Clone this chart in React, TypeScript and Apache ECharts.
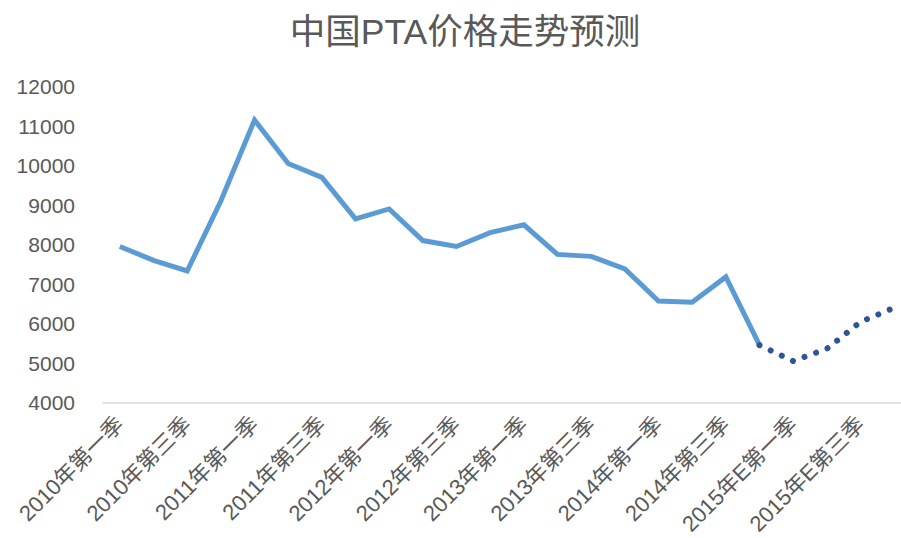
import React, { useEffect, useRef } from "react";
import * as echarts from "echarts";

const categories = [
  "2010年第一季", "2010年第二季", "2010年第三季", "2010年第四季",
  "2011年第一季", "2011年第二季", "2011年第三季", "2011年第四季",
  "2012年第一季", "2012年第二季", "2012年第三季", "2012年第四季",
  "2013年第一季", "2013年第二季", "2013年第三季", "2013年第四季",
  "2014年第一季", "2014年第二季", "2014年第三季", "2014年第四季",
  "2015年E第一季", "2015年E第二季", "2015年E第三季", "2015年E第四季",
];

const actualPrices: (number | null)[] = [
  7950, 7600, 7330, 9100,
  11150, 10050, 9700, 8650,
  8900, 8100, 7950, 8300,
  8500, 7750, 7700, 7380,
  6570, 6540, 7180, 5450,
  null, null, null, null,
];

const forecastPrices: (number | null)[] = [
  null, null, null, null,
  null, null, null, null,
  null, null, null, null,
  null, null, null, null,
  null, null, null, 5450,
  5050, 5360, 6040, 6400,
];

const yTicks = { min: 4000, max: 12000, interval: 1000 };

const FONT = '"Liberation Sans", "Noto Sans CJK SC", sans-serif';

export default function App() {
  const ref = useRef<HTMLDivElement>(null);
  useEffect(() => {
    if (!ref.current) return;
    const chart = echarts.init(ref.current, undefined, { renderer: "svg" });
    chart.setOption({
      animation: false,
      backgroundColor: "#ffffff",
      title: {
        text: "中国PTA价格走势预测",
        left: 460,
        top: 9,
        textAlign: "center",
        textStyle: {
          fontFamily: FONT,
          fontSize: 35.5,
          fontWeight: "normal",
          color: "#595959",
        },
      },
      grid: {
        left: 103,
        width: 808,
        top: 86.5,
        height: 316,
        containLabel: false,
        outerBoundsMode: "none",
      },
      xAxis: {
        type: "category",
        data: categories,
        boundaryGap: true,
        axisLine: { show: true, lineStyle: { color: "#d9d9d9", width: 1.5 } },
        axisTick: { show: false },
        axisLabel: {
          interval: 1,
          rotate: 45,
          margin: 18,
          fontFamily: FONT,
          fontSize: 22,
          color: "#595959",
        },
        splitLine: { show: false },
      },
      yAxis: {
        type: "value",
        min: yTicks.min,
        max: yTicks.max,
        interval: yTicks.interval,
        axisLine: { show: false },
        axisTick: { show: false },
        splitLine: { show: false },
        axisLabel: {
          margin: 28,
          fontFamily: FONT,
          fontSize: 21,
          color: "#595959",
          formatter: (v: number) => String(v),
        },
      },
      series: [
        {
          type: "line",
          data: actualPrices,
          symbol: "none",
          connectNulls: false,
          lineStyle: { color: "#5B9BD5", width: 5, join: "miter" },
          z: 2,
        },
        {
          type: "line",
          data: forecastPrices,
          symbol: "none",
          connectNulls: false,
          lineStyle: {
            color: "#2F5597",
            width: 6,
            type: [0.01, 12.3],
            cap: "round",
          },
          z: 3,
        },
      ],
    });
    return () => chart.dispose();
  }, []);
  return (
    <div
      ref={ref}
      style={{ position: "fixed", left: 0, top: 0, width: 901, height: 538 }}
    />
  );
}
